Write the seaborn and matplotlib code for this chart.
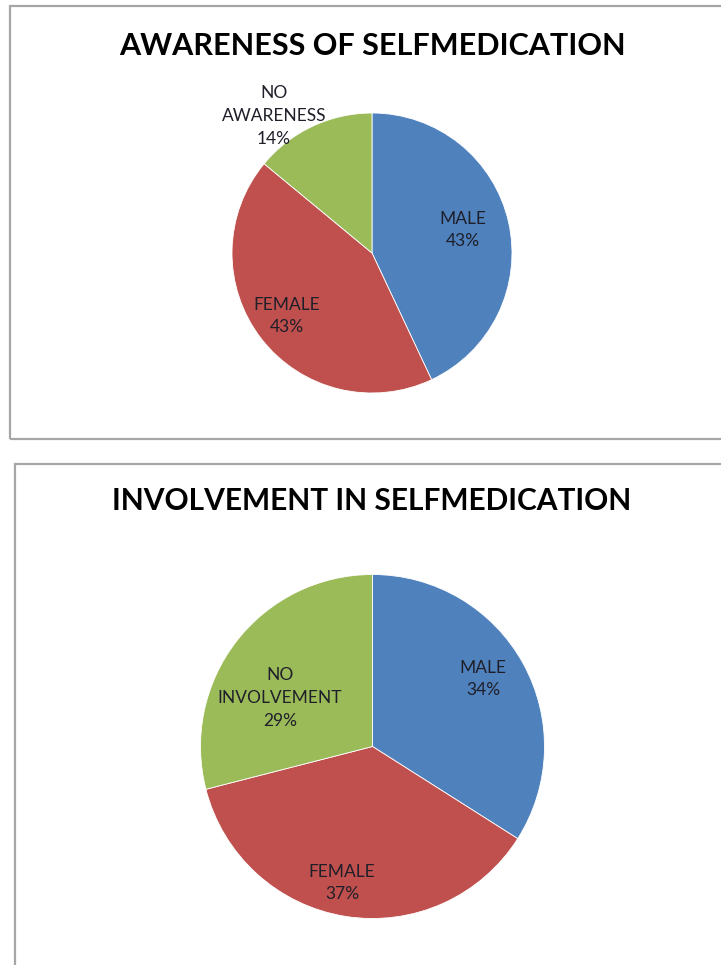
import matplotlib
matplotlib.use("Agg")
import matplotlib.pyplot as plt
import seaborn as sns

# ---- data ----
titles = ["AWARENESS OF SELFMEDICATION", "INVOLVEMENT IN SELFMEDICATION"]
awareness_labels = ["MALE", "FEMALE", "NO\nAWARENESS"]
awareness_values = [43, 43, 14]
involvement_labels = ["MALE", "FEMALE", "NO\nINVOLVEMENT"]
involvement_values = [34, 37, 29]
slice_colors = ["#4F81BD", "#C0504D", "#9BBB59"]

sns.set_theme(style="white")
plt.rcParams["font.family"] = ["Lato", "DejaVu Sans"]

W, H = 721, 965
fig = plt.figure(figsize=(W / 100, H / 100), dpi=100)
fig.patch.set_facecolor("white")


def fx(px):
    return px / W


def fy(py):
    return 1 - py / H


# panel borders
for (x0, y0, x1, y1) in [(10, 6, 740, 439), (15, 464, 740, 990)]:
    fig.patches.append(plt.Rectangle((fx(x0), fy(y1)), fx(x1) - fx(x0), fy(y0) - fy(y1),
                                     transform=fig.transFigure, fill=False,
                                     edgecolor="#a6a6a6", linewidth=1.6, clip_on=False))

palette = sns.color_palette(slice_colors)


def draw_pie(cx, cy, r, values, labels, label_pos, title, title_y, title_size):
    ax = fig.add_axes([fx(cx - r), fy(cy + r), fx(2 * r), (2 * r) / H])
    wedges, _ = ax.pie(values, colors=palette, startangle=90, counterclock=False,
                       radius=1.0, wedgeprops=dict(edgecolor="white", linewidth=0.6))
    ax.set_xlim(-1, 1)
    ax.set_ylim(-1, 1)
    ax.set_axis_off()
    for lab, val, (px, py) in zip(labels, values, label_pos):
        fig.text(fx(px), fy(py), f"{lab}\n{val}%", ha="center", va="center",
                 fontsize=12.5, color="#1f1f2a", linespacing=1.5)
    fig.text(fx(372), fy(title_y), title, ha="center", va="center",
             fontsize=title_size, fontweight="bold", color="black")


draw_pie(372, 253, 140, awareness_values, awareness_labels,
         [(463, 230), (287, 316), (274, 116)], titles[0], 46, 22)
draw_pie(372.5, 746.5, 172, involvement_values, involvement_labels,
         [(483, 679), (342, 883), (280, 698)], titles[1], 501, 21.5)

fig.savefig("out.png", dpi=100)
